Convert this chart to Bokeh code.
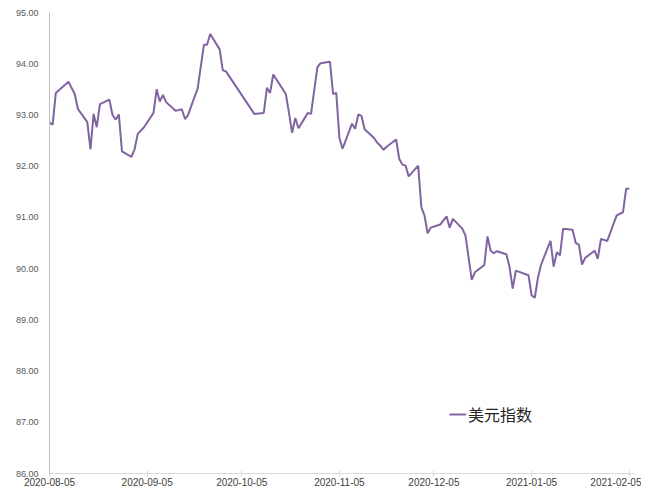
import pandas as pd
from bokeh.plotting import figure
from bokeh.models import (ColumnDataSource, Range1d, FixedTicker, NumeralTickFormatter,
                          DatetimeTickFormatter, Legend, LegendItem)
from bokeh.embed import file_html
from bokeh.resources import INLINE

# ---- data ----
dates = [
    "2020-08-05", "2020-08-06", "2020-08-07", "2020-08-11", "2020-08-13", "2020-08-14",
    "2020-08-17", "2020-08-18", "2020-08-19", "2020-08-20", "2020-08-21", "2020-08-24",
    "2020-08-25", "2020-08-26", "2020-08-27", "2020-08-28", "2020-08-31", "2020-09-01",
    "2020-09-02", "2020-09-04", "2020-09-07", "2020-09-08", "2020-09-09", "2020-09-10",
    "2020-09-11", "2020-09-14", "2020-09-16", "2020-09-17", "2020-09-18", "2020-09-20",
    "2020-09-21", "2020-09-23", "2020-09-24", "2020-09-25", "2020-09-28", "2020-09-29",
    "2020-09-30", "2020-10-09", "2020-10-12", "2020-10-13", "2020-10-14", "2020-10-15",
    "2020-10-19", "2020-10-20", "2020-10-21", "2020-10-22", "2020-10-23", "2020-10-26",
    "2020-10-27", "2020-10-29", "2020-10-30", "2020-11-02", "2020-11-03", "2020-11-04",
    "2020-11-05", "2020-11-06", "2020-11-09", "2020-11-10", "2020-11-11", "2020-11-12",
    "2020-11-13", "2020-11-16", "2020-11-17", "2020-11-18", "2020-11-19", "2020-11-20",
    "2020-11-23", "2020-11-24", "2020-11-25", "2020-11-26", "2020-11-27", "2020-11-30",
    "2020-12-01", "2020-12-02", "2020-12-03", "2020-12-04", "2020-12-07", "2020-12-09",
    "2020-12-10", "2020-12-11", "2020-12-14", "2020-12-15", "2020-12-17", "2020-12-18",
    "2020-12-21", "2020-12-22", "2020-12-23", "2020-12-24", "2020-12-25", "2020-12-28",
    "2020-12-29", "2020-12-30", "2020-12-31", "2021-01-04", "2021-01-05", "2021-01-06",
    "2021-01-07", "2021-01-08", "2021-01-11", "2021-01-12", "2021-01-13", "2021-01-14",
    "2021-01-15", "2021-01-18", "2021-01-19", "2021-01-20", "2021-01-21", "2021-01-22",
    "2021-01-25", "2021-01-26", "2021-01-27", "2021-01-29", "2021-02-01", "2021-02-03",
    "2021-02-04", "2021-02-05",
]
usd_index = [
    92.85, 92.81, 93.43, 93.65, 93.41, 93.12,
    92.86, 92.33, 93.02, 92.76, 93.21, 93.30,
    93.00, 92.91, 93.01, 92.29, 92.18, 92.33,
    92.63, 92.76, 93.04, 93.50, 93.26, 93.39,
    93.25, 93.08, 93.11, 92.92, 93.00, 93.35,
    93.51, 94.37, 94.37, 94.58, 94.28, 93.87,
    93.85, 93.02, 93.04, 93.53, 93.43, 93.79,
    93.41, 93.04, 92.65, 92.94, 92.74, 93.04,
    93.02, 93.93, 94.01, 94.04, 93.41, 93.43,
    92.55, 92.34, 92.83, 92.73, 93.01, 92.98,
    92.72, 92.55, 92.46, 92.40, 92.32, 92.38,
    92.52, 92.14, 92.03, 92.01, 91.80, 92.01,
    91.20, 91.04, 90.69, 90.80, 90.86, 91.02,
    90.80, 90.97, 90.78, 90.65, 89.78, 89.93,
    90.07, 90.63, 90.35, 90.30, 90.34, 90.28,
    90.03, 89.61, 89.96, 89.87, 89.48, 89.43,
    89.82, 90.08, 90.54, 90.04, 90.32, 90.26,
    90.78, 90.76, 90.50, 90.47, 90.08, 90.21,
    90.35, 90.19, 90.58, 90.54, 91.04, 91.10,
    91.56, 91.56,
]
series_name = "美元指数"
x_ticks = ["2020-08-05", "2020-09-05", "2020-10-05", "2020-11-05",
           "2020-12-05", "2021-01-05", "2021-02-05"]
y_ticks = [86, 87, 88, 89, 90, 91, 92, 93, 94, 95]

source = ColumnDataSource(dict(x=pd.to_datetime(dates), y=usd_index))

x_start = pd.Timestamp("2020-08-05")
x_end = pd.Timestamp("2021-02-06 08:00")

p = figure(width=641, height=490, output_backend="svg", toolbar_location=None,
           x_axis_type="datetime",
           x_range=Range1d(x_start, x_end), y_range=Range1d(86, 95),
           min_border_left=49, min_border_right=8, min_border_top=12, min_border_bottom=17)
p.outline_line_color = None
p.xgrid.visible = False
p.ygrid.visible = False
p.background_fill_color = "white"
p.border_fill_color = "white"

line = p.line("x", "y", source=source, line_color="#8064A2", line_width=2)

# y axis
p.yaxis.ticker = FixedTicker(ticks=y_ticks)
p.yaxis.formatter = NumeralTickFormatter(format="0.00")
p.yaxis.axis_line_color = "#bfbfbf"
p.yaxis.major_tick_out = 0
p.yaxis.major_tick_in = 0
p.yaxis.minor_tick_line_color = None
p.yaxis.major_label_standoff = 11
p.yaxis.major_label_text_font = "Liberation Sans"
p.yaxis.major_label_text_font_size = "9px"
p.yaxis.major_label_text_color = "#595959"

# x axis
tick_ms = [pd.Timestamp(t).value // 10**6 for t in x_ticks]
p.xaxis.ticker = FixedTicker(ticks=tick_ms)
fmt = "%Y-%m-%d"
p.xaxis.formatter = DatetimeTickFormatter(days=fmt, months=fmt, years=fmt, hours=fmt,
                                          minutes=fmt, seconds=fmt, milliseconds=fmt,
                                          microseconds=fmt)
p.xaxis.axis_line_color = "#d9d9d9"
p.xaxis.major_tick_line_color = "#d9d9d9"
p.xaxis.major_tick_in = 3
p.xaxis.major_tick_out = 3
p.xaxis.minor_tick_line_color = None
p.xaxis.major_label_standoff = 1
p.xaxis.major_label_text_font = "Liberation Sans"
p.xaxis.major_label_text_font_size = "10px"
p.xaxis.major_label_text_color = "#404040"

legend = Legend(items=[LegendItem(label=series_name, renderers=[line])],
                location=(400, 47), border_line_color=None, background_fill_alpha=0,
                padding=0, margin=0, glyph_width=17, label_standoff=2,
                label_text_font="Noto Sans CJK SC", label_text_font_size="16px",
                label_text_color="#262626")
p.add_layout(legend, "center")

open("out.html", "w").write(file_html(p, INLINE))
